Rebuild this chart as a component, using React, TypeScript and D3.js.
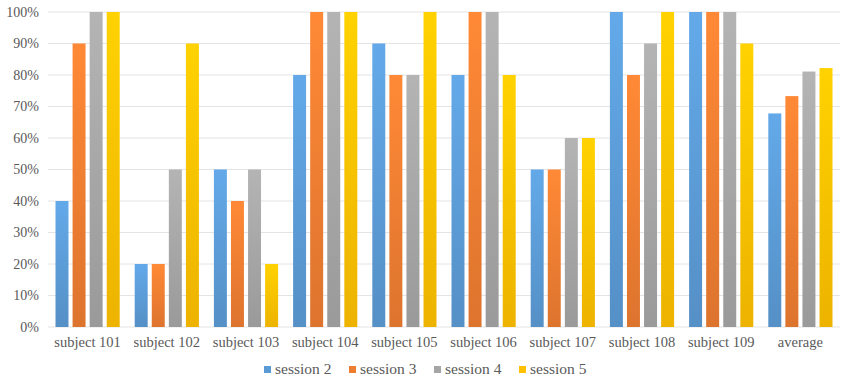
import React from "react";
import * as d3 from "d3";

const WIDTH = 850;
const HEIGHT = 386;
const MARGIN = { top: 12, right: 10, bottom: 59, left: 48 };

const categories = [
  "subject 101", "subject 102", "subject 103", "subject 104", "subject 105",
  "subject 106", "subject 107", "subject 108", "subject 109", "average",
];
const seriesNames = ["session 2", "session 3", "session 4", "session 5"];
const session2 = [40, 20, 50, 80, 90, 80, 50, 100, 100, 67.8];
const session3 = [90, 20, 40, 100, 80, 100, 50, 80, 100, 73.3];
const session4 = [100, 50, 50, 100, 80, 100, 60, 90, 100, 81.1];
const session5 = [100, 90, 20, 100, 100, 80, 60, 100, 90, 82.2];
const yTicks = [0, 10, 20, 30, 40, 50, 60, 70, 80, 90, 100];
const colors = ["#5B9BD5", "#ED7D31", "#A5A5A5", "#FFC000"];

const allSeries = [session2, session3, session4, session5];

const FONT = "Liberation Serif, DejaVu Serif, serif";

export default function App() {
  const boundsWidth = WIDTH - MARGIN.left - MARGIN.right;
  const boundsHeight = HEIGHT - MARGIN.top - MARGIN.bottom;

  const xScale = d3.scaleBand().domain(categories).range([0, boundsWidth]);
  const inner = d3
    .scaleBand()
    .domain(seriesNames)
    .range([7.5, xScale.bandwidth() - 7.5])
    .paddingInner(0.24);
  const yScale = d3.scaleLinear().domain([0, 100]).range([boundsHeight, 0]);

  // legend layout
  const legendItemW = 85;
  const legendStart = 264;

  return (
    <svg width={WIDTH} height={HEIGHT} style={{ position: "absolute", left: 0, top: 0, background: "#fff", fontFamily: FONT }}>
      <defs>
        {colors.map((c, i) => (
          <linearGradient key={i} id={`grad${i}`} x1="0" y1="0" x2="0" y2="1">
            <stop offset="0%" stopColor={d3.color(c)!.brighter(0.25).toString()} />
            <stop offset="100%" stopColor={d3.color(c)!.darker(0.2).toString()} />
          </linearGradient>
        ))}
      </defs>
      <g transform={`translate(${MARGIN.left},${MARGIN.top})`}>
        {yTicks.map((t) => (
          <g key={t}>
            <line x1={0} x2={boundsWidth} y1={yScale(t)} y2={yScale(t)} stroke="#e4e4e4" strokeWidth={1} />
            <text
              x={-9}
              y={yScale(t)}
              dy="0.35em"
              textAnchor="end"
              style={{ fontFamily: FONT, fontSize: 14 }}
              fill="#595959"
            >
              {t}%
            </text>
          </g>
        ))}
        {categories.map((cat, ci) => (
          <g key={cat} transform={`translate(${xScale(cat)},0)`}>
            {allSeries.map((s, si) => (
              <rect
                key={si}
                x={inner(seriesNames[si])}
                y={yScale(s[ci])}
                width={inner.bandwidth()}
                height={boundsHeight - yScale(s[ci])}
                fill={`url(#grad${si})`}
              />
            ))}
            <text
              x={xScale.bandwidth() / 2}
              y={boundsHeight + 20}
              textAnchor="middle"
              style={{ fontFamily: FONT, fontSize: 14.5 }}
              fill="#595959"
            >
              {cat}
            </text>
          </g>
        ))}
      </g>
      <g transform={`translate(${legendStart},374)`}>
        {seriesNames.map((name, i) => (
          <g key={name} transform={`translate(${i * legendItemW},0)`}>
            <rect x={0} y={-8} width={7} height={7} fill={colors[i]} />
            <text x={11} y={0} style={{ fontFamily: FONT, fontSize: 15.5 }} fill="#595959">
              {name}
            </text>
          </g>
        ))}
      </g>
    </svg>
  );
}
